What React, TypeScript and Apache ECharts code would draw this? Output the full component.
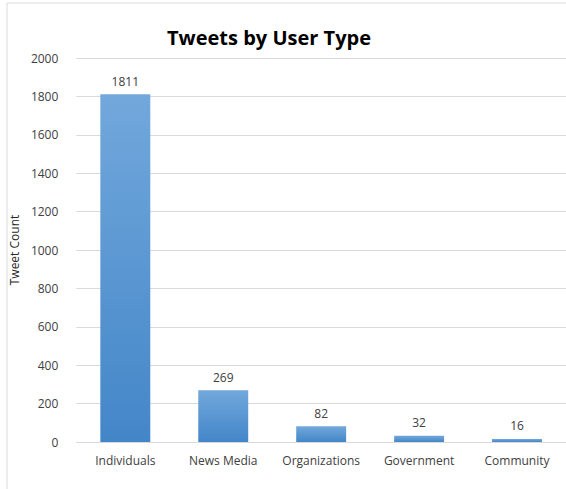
import React, { useEffect, useRef } from "react";
import * as echarts from "echarts";

const categories = ["Individuals", "News Media", "Organizations", "Government", "Community"];
const tweetCounts = [1811, 269, 82, 32, 16];
const yTicks = { min: 0, max: 2000, interval: 200 };

export default function App() {
  const ref = useRef<HTMLDivElement>(null);
  useEffect(() => {
    if (!ref.current) return;
    const chart = echarts.init(ref.current, null, { renderer: "svg" });
    const font = "'Open Sans', 'Noto Sans', sans-serif";
    chart.setOption({
      animation: false,
      backgroundColor: "#ffffff",
      title: {
        text: "Tweets by User Type",
        left: 264,
        top: 32,
        textAlign: "center",
        textVerticalAlign: "middle",
        textStyle: { fontFamily: font, fontWeight: "bold", fontSize: 20, color: "#000000" },
      },
      graphic: [
        {
          type: "rect",
          shape: { x: 7, y: 3, width: 700, height: 700 },
          style: { fill: "none", stroke: "#d9d9d9", lineWidth: 1 },
          silent: true,
        },
      ],
      grid: { left: 76, right: -4, top: 58, bottom: 47, containLabel: false },
      xAxis: {
        type: "category",
        data: categories,
        axisLine: { show: true, lineStyle: { color: "#d9d9d9" } },
        axisTick: { show: false },
        axisLabel: { interval: 0, fontFamily: font, fontSize: 12, color: "#404040", margin: 12 },
      },
      yAxis: {
        type: "value",
        min: yTicks.min,
        max: yTicks.max,
        interval: yTicks.interval,
        name: "Tweet Count",
        nameLocation: "middle",
        nameGap: 53,
        nameTextStyle: { fontFamily: font, fontSize: 12, color: "#262626" },
        axisLine: { show: false },
        axisTick: { show: false },
        axisLabel: {
          fontFamily: font,
          fontSize: 12,
          color: "#404040",
          margin: 18,
          formatter: (v: number) => String(v),
        },
        splitLine: { lineStyle: { color: "#d9d9d9" } },
      },
      series: [
        {
          type: "bar",
          data: tweetCounts,
          barCategoryGap: "49%",
          itemStyle: {
            color: new echarts.graphic.LinearGradient(0, 0, 0, 1, [
              { offset: 0, color: "#72a8dc" },
              { offset: 1, color: "#4386c8" },
            ]),
          },
          label: {
            show: true,
            position: "top",
            distance: 7,
            fontFamily: font,
            fontSize: 12,
            color: "#404040",
          },
        },
      ],
    });
    return () => chart.dispose();
  }, []);
  return (
    <div
      ref={ref}
      style={{ position: "fixed", left: 0, top: 0, width: 566, height: 489 }}
    />
  );
}
